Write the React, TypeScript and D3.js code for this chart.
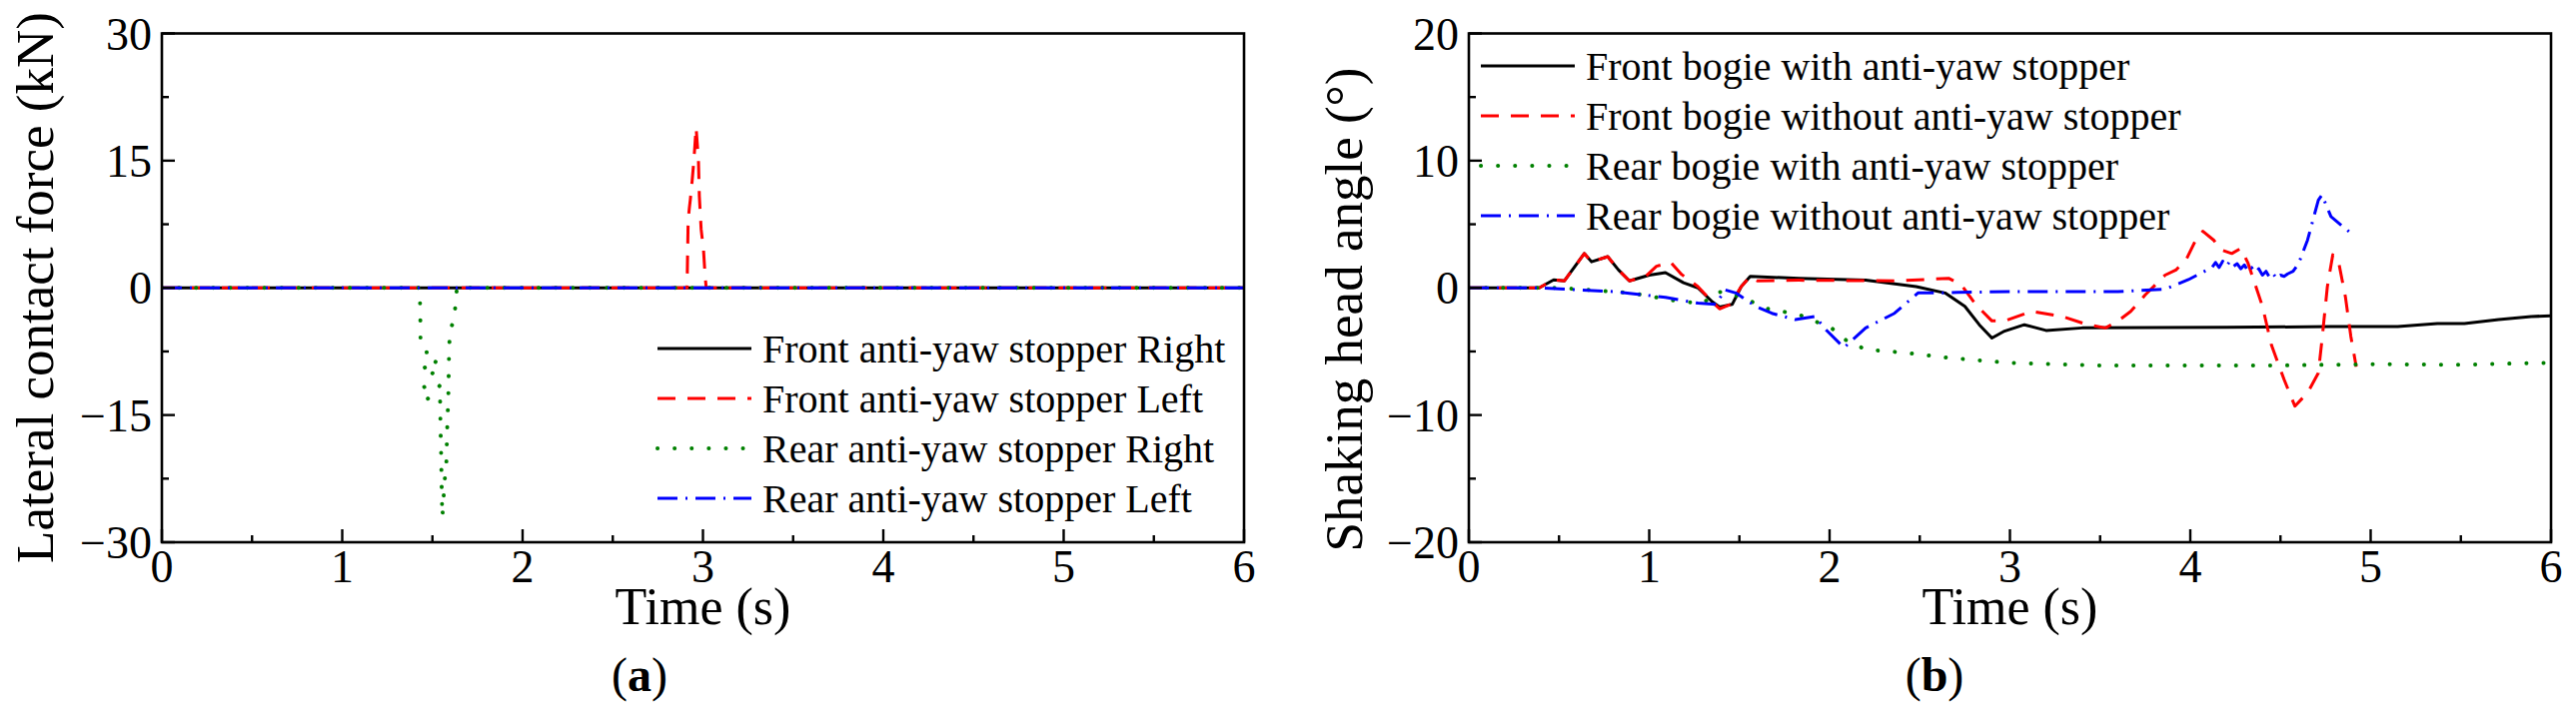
import React from "react";
import * as d3 from "d3";

// ---------- DATA ----------
const xTicksMajor = [0, 1, 2, 3, 4, 5, 6];
const xTicksMinor = [0.5, 1.5, 2.5, 3.5, 4.5, 5.5];
const yTicksA = [-30, -15, 0, 15, 30];
const yMinorA = [-22.5, -7.5, 7.5, 22.5];
const yTicksB = [-20, -10, 0, 10, 20];
const yMinorB = [-15, -5, 5, 15];

const legendA = [
  "Front anti-yaw stopper Right",
  "Front anti-yaw stopper Left",
  "Rear anti-yaw stopper Right",
  "Rear anti-yaw stopper Left",
];
const legendB = [
  "Front bogie with anti-yaw stopper",
  "Front bogie without anti-yaw stopper",
  "Rear bogie with anti-yaw stopper",
  "Rear bogie without anti-yaw stopper",
];

// Panel (a): lateral contact force (kN)
const aFrontRight: [number, number][] = [[0, 0], [6, 0]];
const aFrontLeft: [number, number][] = [
  [0, 0], [2.912, 0], [2.915, 4.2], [2.918, 8.0], [2.925, 9.5], [2.93, 10.4], [2.94, 12.6],
  [2.95, 15.1], [2.962, 18.9], [2.975, 15.1], [2.98, 10.8], [2.99, 6.9], [3.003, 4.5],
  [3.012, 1.4], [3.018, 0], [6, 0],
];
const aRearRight: [number, number][] = [
  [0, 0], [1.43, 0], [1.433, -3.7], [1.434, -6.3], [1.466, -7.0], [1.47, -8.1], [1.446, -8.9],
  [1.463, -9.6], [1.496, -9.7], [1.52, -8.6], [1.536, -8.8], [1.48, -10.8], [1.45, -11.5],
  [1.47, -12.3], [1.465, -13.3], [1.542, -11.5], [1.543, -14], [1.545, -16.6], [1.548, -19.2],
  [1.55, -21.8], [1.552, -24.4], [1.555, -27], [1.568, -22.7], [1.577, -20.9], [1.58, -18.3],
  [1.583, -15.7], [1.588, -13.1], [1.59, -10.5], [1.592, -7.9], [1.596, -5.3], [1.62, -3.6],
  [1.633, -1], [1.635, 0], [6, 0],
];
const aRearLeft: [number, number][] = [[0, 0], [6, 0]];

// Panel (b): shaking head angle (deg)
const bFrontWith: [number, number][] = [
  [0, 0], [0.39, 0], [0.47, 0.63], [0.53, 0.55], [0.64, 2.7], [0.68, 2.05], [0.77, 2.45],
  [0.83, 1.4], [0.89, 0.55], [1.0, 1.0], [1.09, 1.2], [1.19, 0.4], [1.27, 0.0],
  [1.35, -1.1], [1.39, -1.5], [1.46, -1.3], [1.51, 0.1], [1.56, 0.9], [1.83, 0.75],
  [2.2, 0.6], [2.48, 0.1], [2.64, -0.4], [2.75, -1.45], [2.83, -2.9], [2.9, -3.95],
  [2.97, -3.4], [3.08, -2.9], [3.2, -3.35], [3.4, -3.15], [4.2, -3.1], [4.78, -3.05],
  [5.15, -3.05], [5.37, -2.8], [5.52, -2.8], [5.71, -2.5], [5.89, -2.25], [6.0, -2.2],
];
const bFrontWithout: [number, number][] = [
  [0, 0], [0.39, 0], [0.47, 0.63], [0.53, 0.55], [0.64, 2.7], [0.68, 2.05], [0.77, 2.45],
  [0.83, 1.4], [0.89, 0.55], [0.98, 0.9], [1.04, 1.7], [1.12, 2.0], [1.18, 1.05],
  [1.27, 0.1], [1.35, -1.1], [1.39, -1.65], [1.45, -1.3], [1.51, 0.1], [1.56, 0.9],
  [1.6, 0.55], [1.83, 0.6], [2.38, 0.55], [2.66, 0.75], [2.73, 0.25], [2.81, -1.3],
  [2.9, -2.6], [2.97, -2.6], [3.12, -1.85], [3.29, -2.25], [3.43, -2.9], [3.53, -3.15],
  [3.6, -2.6], [3.67, -1.85], [3.75, -0.55], [3.86, 1.0], [3.92, 1.4], [3.98, 2.3],
  [4.03, 3.75], [4.07, 4.45], [4.13, 3.75], [4.17, 3.0], [4.23, 2.7], [4.28, 3.1],
  [4.32, 1.95], [4.4, -1.45], [4.45, -4.5], [4.52, -7.2], [4.58, -9.3], [4.65, -8.25],
  [4.71, -6.7], [4.73, -4.1], [4.76, 0.1], [4.79, 2.6], [4.82, 2.2], [4.86, -0.7],
  [4.89, -3.8], [4.92, -6.2],
];
const bRearWith: [number, number][] = [
  [0, 0], [0.5, 0], [0.65, -0.15], [0.9, -0.4], [1.18, -1.1], [1.3, -1.2], [1.37, -0.35],
  [1.42, -0.3], [1.55, -0.95], [1.64, -1.6], [1.83, -2.1], [2.01, -3.15], [2.09, -4.1],
  [2.2, -4.85], [2.42, -5.1], [2.66, -5.5], [3.0, -5.9], [3.49, -6.1], [4.5, -6.1],
  [5.0, -6.0], [5.5, -6.05], [5.93, -5.9], [6.0, -5.9],
];
const bRearWithout: [number, number][] = [
  [0, 0], [0.39, 0], [0.53, -0.1], [0.81, -0.3], [1.09, -0.75], [1.27, -1.2], [1.37, -1.3],
  [1.42, -0.15], [1.48, -0.4], [1.59, -1.45], [1.68, -2.0], [1.81, -2.5], [1.92, -2.25],
  [1.98, -3.3], [2.08, -4.7], [2.2, -3.15], [2.36, -2.0], [2.49, -0.4], [2.6, -0.4],
  [2.71, -0.35], [3.0, -0.3], [3.6, -0.3], [3.86, -0.1], [3.99, 0.65], [4.12, 1.6],
  [4.14, 2.0], [4.16, 1.6], [4.18, 2.1], [4.2, 1.7], [4.22, 2.1], [4.24, 1.7], [4.26, 1.9],
  [4.28, 1.5], [4.3, 1.8], [4.32, 1.3], [4.34, 1.6], [4.36, 1.2], [4.38, 1.5], [4.4, 1.0],
  [4.42, 1.3], [4.44, 0.8], [4.46, 1.1], [4.48, 0.7], [4.5, 1.0], [4.52, 0.9], [4.54, 1.1],
  [4.57, 1.3], [4.6, 1.9], [4.65, 3.75], [4.71, 6.9], [4.73, 7.3], [4.78, 5.6], [4.89, 4.3],
];

// ---------- STYLE ----------
const FONT = '"Liberation Serif", "Times New Roman", serif';
const styles = [
  { color: "#000000", dash: "none", cap: "butt" },
  { color: "#ff0000", dash: "18,12", cap: "butt" },
  { color: "#008000", dash: "0.1,17", cap: "round" },
  { color: "#0000ff", dash: "20,8,2,8", cap: "butt" },
];

type PanelProps = {
  id: string;
  x0: number;
  x1: number;
  yDomain: [number, number];
  yTicks: number[];
  yMinor: number[];
  series: [number, number][][];
  legend: string[];
  legendX: number;
  legendY: number;
  ylabel: string;
  ylabelX: number;
  ylabelY: number;
  caption: string;
  captionX: number;
};

const Y_TOP = 33.5;
const Y_BOT = 543;

function Panel(p: PanelProps) {
  const x = d3.scaleLinear().domain([0, 6]).range([p.x0, p.x1]);
  const y = d3.scaleLinear().domain(p.yDomain).range([Y_BOT, Y_TOP]);
  const line = d3
    .line<[number, number]>()
    .x((d) => x(d[0]))
    .y((d) => y(d[1]));
  const fmt = (v: number) => (v < 0 ? "\u2212" + Math.abs(v) : String(v));
  return (
    <g>
      <defs>
        <clipPath id={"clip-" + p.id}>
          <rect x={p.x0} y={Y_TOP} width={p.x1 - p.x0} height={Y_BOT - Y_TOP} />
        </clipPath>
      </defs>
      <g clipPath={`url(#clip-${p.id})`}>
        {p.series.map((s, i) => (
          <path
            key={i}
            d={line(s) || ""}
            fill="none"
            stroke={styles[i].color}
            strokeWidth={i === 2 ? 4 : 3}
            strokeDasharray={styles[i].dash}
            strokeLinecap={styles[i].cap as any}
            strokeLinejoin="round"
          />
        ))}
      </g>
      {/* frame */}
      <rect
        x={p.x0}
        y={Y_TOP}
        width={p.x1 - p.x0}
        height={Y_BOT - Y_TOP}
        fill="none"
        stroke="#000"
        strokeWidth={2.6}
      />
      {/* x ticks */}
      {xTicksMajor.map((t) => (
        <g key={"xt" + t}>
          <line x1={x(t)} x2={x(t)} y1={Y_BOT} y2={Y_BOT - 13} stroke="#000" strokeWidth={2.4} />
          <text x={x(t)} y={583} fontSize={46} textAnchor="middle" fontFamily={FONT}>
            {t}
          </text>
        </g>
      ))}
      {xTicksMinor.map((t) => (
        <line key={"xm" + t} x1={x(t)} x2={x(t)} y1={Y_BOT} y2={Y_BOT - 7} stroke="#000" strokeWidth={2.4} />
      ))}
      {/* y ticks */}
      {p.yTicks.map((v) => (
        <g key={"yt" + v}>
          <line x1={p.x0} x2={p.x0 + 13} y1={y(v)} y2={y(v)} stroke="#000" strokeWidth={2.4} />
          <text
            x={p.x0 - 10}
            y={y(v) + 16}
            fontSize={46}
            textAnchor="end"
            fontFamily={FONT}
          >
            {fmt(v)}
          </text>
        </g>
      ))}
      {p.yMinor.map((v) => (
        <line key={"ym" + v} x1={p.x0} x2={p.x0 + 7} y1={y(v)} y2={y(v)} stroke="#000" strokeWidth={2.4} />
      ))}
      {/* legend */}
      {p.legend.map((label, i) => {
        const by = p.legendY + i * 50;
        return (
          <g key={"lg" + i}>
            <line
              x1={p.legendX}
              x2={p.legendX + 94}
              y1={by - 14}
              y2={by - 14}
              stroke={styles[i].color}
              strokeWidth={i === 2 ? 4 : 3}
              strokeDasharray={styles[i].dash}
              strokeLinecap={styles[i].cap as any}
            />
            <text x={p.legendX + 105} y={by} fontSize={40} fontFamily={FONT}>
              {label}
            </text>
          </g>
        );
      })}
      {/* axis labels */}
      <text
        transform={`translate(${p.ylabelX},${p.ylabelY}) rotate(-90)`}
        textAnchor="middle"
        fontSize={53}
        fontFamily={FONT}
      >
        {p.ylabel}
      </text>
      <text x={(p.x0 + p.x1) / 2} y={625} textAnchor="middle" fontSize={52} fontFamily={FONT}>
        Time (s)
      </text>
      <text x={p.captionX} y={692} textAnchor="middle" fontSize={48} fontFamily={FONT}>
        (<tspan fontWeight="bold">{p.caption}</tspan>)
      </text>
    </g>
  );
}

export default function App() {
  return (
    <svg
      width={2578}
      height={718}
      viewBox="0 0 2578 718"
      style={{ position: "absolute", left: 0, top: 0, background: "#fff" }}
    >
      <rect x={0} y={0} width={2578} height={718} fill="#fff" />
      <Panel
        id="a"
        x0={162}
        x1={1245}
        yDomain={[-30, 30]}
        yTicks={yTicksA}
        yMinor={yMinorA}
        series={[aFrontRight, aFrontLeft, aRearRight, aRearLeft]}
        legend={legendA}
        legendX={658}
        legendY={363}
        ylabel="Lateral contact force (kN)"
        ylabelX={53}
        ylabelY={288}
        caption="a"
        captionX={640}
      />
      <Panel
        id="b"
        x0={1470}
        x1={2553}
        yDomain={[-20, 20]}
        yTicks={yTicksB}
        yMinor={yMinorB}
        series={[bFrontWith, bFrontWithout, bRearWith, bRearWithout]}
        legend={legendB}
        legendX={1482}
        legendY={80}
        ylabel="Shaking head angle (°)"
        ylabelX={1363}
        ylabelY={310}
        caption="b"
        captionX={1936}
      />
    </svg>
  );
}
